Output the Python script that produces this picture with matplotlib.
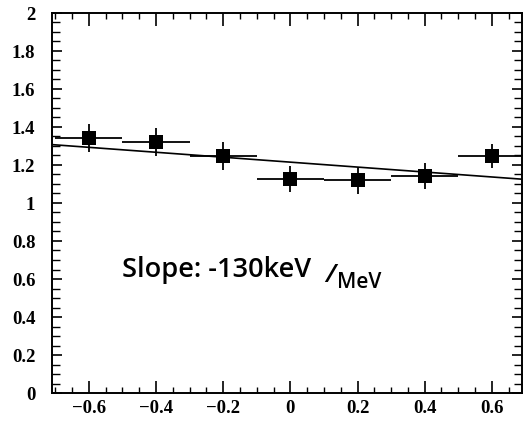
import numpy as np
import matplotlib
matplotlib.use("Agg")
import matplotlib.pyplot as plt
from matplotlib.ticker import MultipleLocator

# Bin centres, half-widths and measured ratio with errors
x_centers = [-0.6, -0.4, -0.2, 0.0, 0.2, 0.4, 0.6]
x_halfwidth = [0.1, 0.1, 0.1, 0.1, 0.1, 0.1, 0.1]
y_values = [1.342, 1.322, 1.247, 1.126, 1.120, 1.142, 1.247]
y_errors = [0.074, 0.074, 0.074, 0.070, 0.072, 0.066, 0.063]

# Linear fit: slope -130 keV/MeV
fit_slope = -0.130
fit_intercept = 1.215

x_ticks = [-0.6, -0.4, -0.2, 0.0, 0.2, 0.4, 0.6]
x_ticklabels = ["\u22120.6", "\u22120.4", "\u22120.2", "0", "0.2", "0.4", "0.6"]
y_ticks = [0, 0.2, 0.4, 0.6, 0.8, 1.0, 1.2, 1.4, 1.6, 1.8, 2.0]
y_ticklabels = ["0", "0.2", "0.4", "0.6", "0.8", "1", "1.2", "1.4", "1.6", "1.8", "2"]

fig = plt.figure(figsize=(5.28, 4.23), dpi=100)
ax = fig.add_axes([52 / 528, 30 / 423, 470 / 528, 380 / 423])

xmin, xmax = -0.71, 0.69
ax.set_xlim(xmin, xmax)
ax.set_ylim(0, 2)

ax.errorbar(x_centers, y_values, xerr=x_halfwidth, yerr=y_errors,
            fmt="s", color="black", markersize=9.5, elinewidth=1.3,
            capsize=0, markeredgewidth=0)

xf = np.array([xmin, xmax])
ax.plot(xf, fit_intercept + fit_slope * xf, color="black", lw=1.2)

for s in ax.spines.values():
    s.set_linewidth(1.4)

ax.set_xticks(x_ticks)
ax.set_xticklabels(x_ticklabels)
ax.set_yticks(y_ticks)
ax.set_yticklabels(y_ticklabels)
ax.xaxis.set_minor_locator(MultipleLocator(0.05))
ax.yaxis.set_minor_locator(MultipleLocator(0.05))

ax.tick_params(axis="x", which="major", direction="in", length=9, width=1.2,
               top=True, pad=5)
ax.tick_params(axis="x", which="minor", direction="in", length=4, width=1.0,
               top=True)
ax.tick_params(axis="y", which="major", direction="in", length=7.5, width=1.2,
               right=True, pad=12)
ax.tick_params(axis="y", which="minor", direction="in", length=5.5, width=1.0,
               right=True)

for lab in ax.get_xticklabels() + ax.get_yticklabels():
    lab.set_fontfamily("Liberation Serif")
    lab.set_fontsize(13.5)
    lab.set_fontweight("bold")

# Hand-written style annotation
note = dict(family="Open Sans", weight="semibold",
            color="black", ha="left", va="baseline")
ax.text(-0.50, 0.61, "Slope: -130keV", fontsize=19.5, **note)
ax.text(0.105, 0.585, "/", fontsize=19, style="italic", **note)
ax.text(0.139, 0.553, "MeV", fontsize=15, **note)

fig.savefig("out.png", dpi=100)
